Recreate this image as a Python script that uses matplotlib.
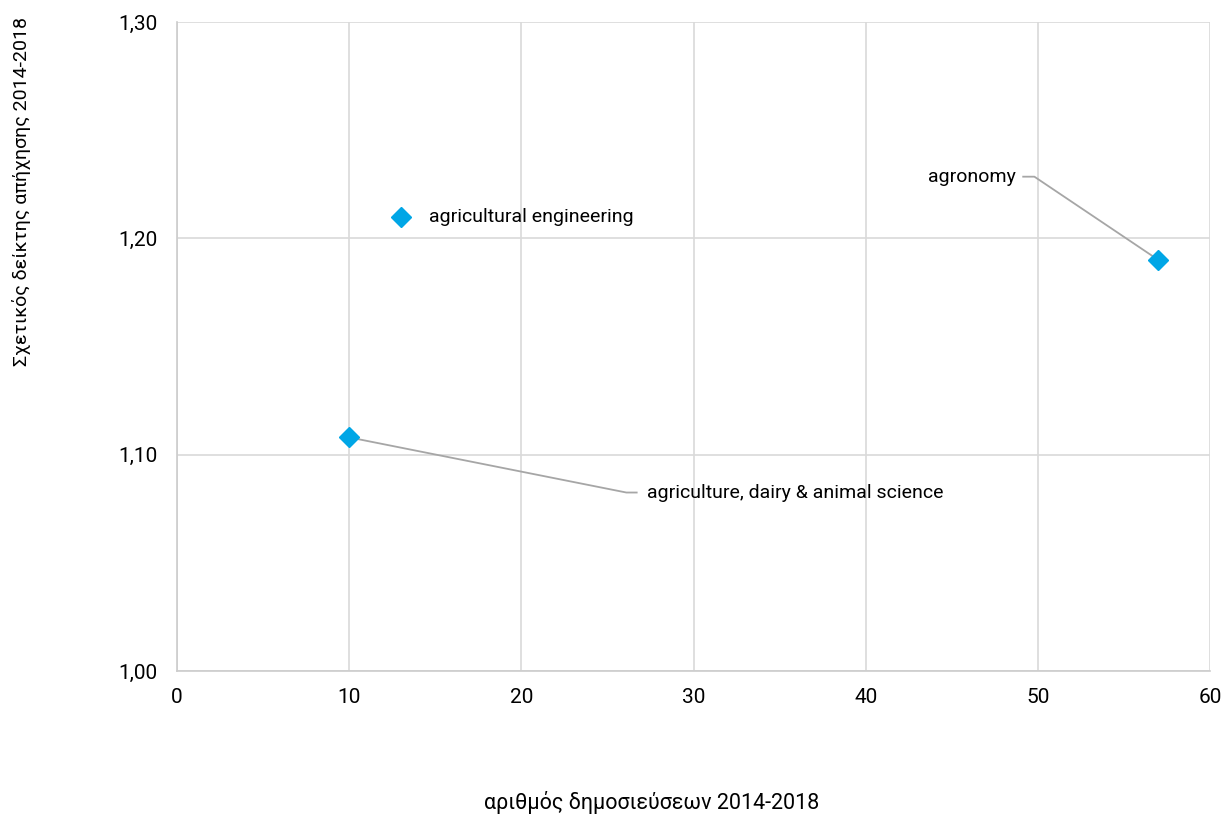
import matplotlib.pyplot as plt

plt.rcParams['font.family'] = ['Roboto', 'DejaVu Sans']

# data
names = ["agriculture, dairy & animal science", "agricultural engineering", "agronomy"]
publications = [10, 13, 57]
impact = [1.108, 1.21, 1.19]
xticks = [0, 10, 20, 30, 40, 50, 60]
yticks = [1.00, 1.10, 1.20, 1.30]

fig = plt.figure(figsize=(12.25, 8.18), dpi=100)
ax = fig.add_axes([177 / 1225, 1 - 671 / 818, (1210 - 177) / 1225, (671 - 22) / 818])

ax.plot(publications, impact, linestyle='none', marker='D', markersize=10,
        color='#00a6e6', zorder=5)

ax.set_xlim(0, 60)
ax.set_ylim(1.00, 1.30)
ax.set_xticks(xticks)
ax.set_yticks(yticks)
ax.set_yticklabels([f"{v:.2f}".replace('.', ',') for v in yticks])
ax.tick_params(length=0, labelsize=15)
ax.tick_params(axis='x', pad=12)
ax.tick_params(axis='y', pad=14)
ax.grid(True, color='#d9d9d9', linewidth=1.2, zorder=0)
ax.set_axisbelow(True)
for s in ['top', 'right']:
    ax.spines[s].set_visible(False)
for s in ['left', 'bottom']:
    ax.spines[s].set_color('#cccccc')
    ax.spines[s].set_linewidth(1.2)

lc = '#a6a6a6'
fs = 14

# agriculture, dairy & animal science: label lower right, elbow leader line
tx, ty = 27.3, 1.0825
ax.text(tx, ty, names[0], fontsize=fs, va='center', ha='left')
ax.plot([tx - 0.6, tx - 1.2, publications[0]], [ty, ty, impact[0]],
        color=lc, lw=1.3, zorder=4)

# agricultural engineering: label right of the marker
ax.annotate(names[1], xy=(publications[1], impact[1]), xytext=(20, 0),
            textcoords='offset points', fontsize=fs, va='center', ha='left')

# agronomy: label upper left, elbow leader line
tx, ty = 48.7, 1.2285
ax.text(tx, ty, names[2], fontsize=fs, va='center', ha='right')
ax.plot([tx + 0.45, tx + 1.1, publications[2]], [ty, ty, impact[2]],
        color=lc, lw=1.3, zorder=4)

fig.text(22 / 1225, 1 - 192 / 818, 'Σχετικός δείκτης απήχησης 2014-2018',
         rotation=90, fontsize=14, ha='center', va='center')
fig.text(652 / 1225, 1 - 803 / 818, 'αριθμός δημοσιεύσεων 2014-2018',
         fontsize=15.5, ha='center', va='center')

fig.savefig('out.png', dpi=100)
